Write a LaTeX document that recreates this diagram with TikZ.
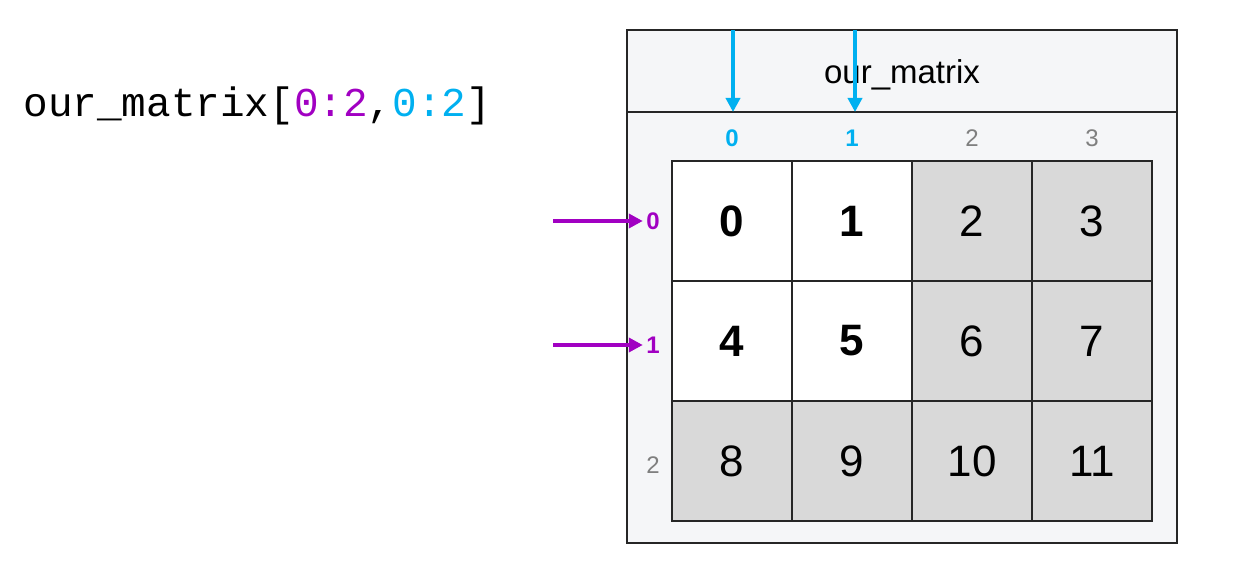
\documentclass[tikz,border=0pt]{standalone}
\usepackage{fontspec}
\setmainfont{Liberation Sans}
\setmonofont{Liberation Mono}
\usetikzlibrary{arrows.meta,positioning}
\definecolor{rowColor}{HTML}{A100C2}
\definecolor{colColor}{HTML}{00B0F0}
\definecolor{offColor}{HTML}{7F7F7F}
\definecolor{boxColor}{HTML}{F5F6F8}
\definecolor{cellColor}{HTML}{D9D9D9}
\tikzset{
	cell/.style={draw=black!85, line width=1.2pt, minimum size=120pt, inner sep=0, font=\fontsize{44}{48}\selectfont},
	idx/.style={font=\fontsize{24}{28}\selectfont\bfseries},
	pick/.style={-{Triangle[length=14pt,width=14pt]}, line width=3.5pt}
}
\begin{document}
\begin{tikzpicture}[x=1pt,y=-1pt]
	\useasboundingbox (0,0) rectangle (1234,572);
	\draw[fill=boxColor, line width=1.2pt, draw=black!85] (627,30) rectangle (1177,543);
	\draw[line width=1.2pt, draw=black!85] (627,112) -- (1177,112);
	\node[font=\fontsize{33}{36}\selectfont] (title) at (902,75) {our\_matrix};
	\node[anchor=west, font=\ttfamily\fontsize{41}{44}\selectfont] (code) at (20,106)
		{our\_matrix[\textcolor{rowColor}{0:2},\textcolor{colColor}{0:2}]};
	% cells
	\foreach \r in {0,1,2}{
		\foreach \c in {0,1,2,3}{
			\pgfmathtruncatemacro{\v}{4*\r+\c}
			\pgfmathsetmacro{\pick}{(\r<2 && \c<2) ? 1 : 0}
			\ifdim\pick pt>0.5pt
				\node[cell, fill=white, font=\fontsize{44}{48}\selectfont\bfseries] (m\r\c) at (732+120*\c, 221+120*\r) {\v};
			\else
				\node[cell, fill=cellColor] (m\r\c) at (732+120*\c, 221+120*\r) {\v};
			\fi
		}
	}
	% index labels
	\node[idx, colColor] (c0) at (732,138) {0};
	\node[idx, colColor] (c1) at (852,138) {1};
	\node[idx, offColor, font=\fontsize{24}{28}\selectfont] (c2) at (972,138) {2};
	\node[idx, offColor, font=\fontsize{24}{28}\selectfont] (c3) at (1092,138) {3};
	\node[idx, rowColor] (r0) at (653,221) {0};
	\node[idx, rowColor] (r1) at (653,345) {1};
	\node[idx, offColor, font=\fontsize{24}{28}\selectfont] (r2) at (653,465) {2};
	% arrows
	\coordinate (a0) at (553,221);
	\coordinate (a1) at (553,345);
	\coordinate (b0) at (733,30);
	\coordinate (b1) at (855,30);
	\draw[pick, rowColor] (a0) -- (r0.west);
	\draw[pick, rowColor] (a1) -- (r1.west);
	\draw[pick, colColor] (b0) -- (733,112);
	\draw[pick, colColor] (b1) -- (855,112);
\end{tikzpicture}
\end{document}
